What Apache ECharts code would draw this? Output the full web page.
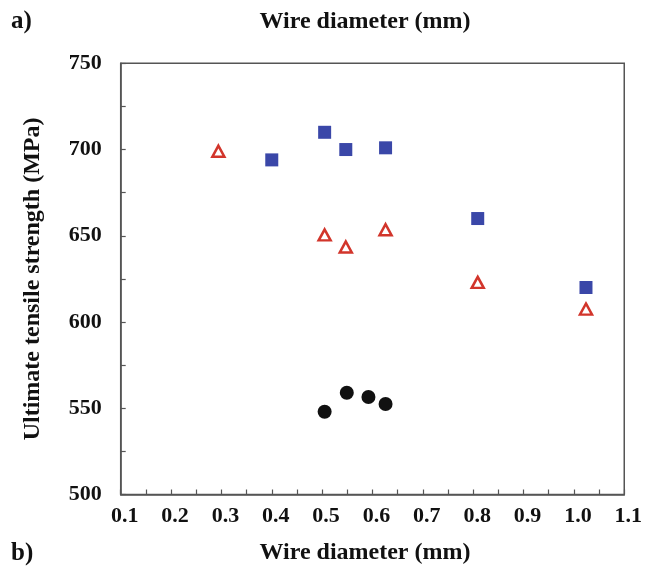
<!DOCTYPE html>
<html>
<head>
<meta charset="utf-8">
<script src="https://cdn.jsdelivr.net/npm/echarts@6/dist/echarts.min.js"></script>
<style>
  html, body { margin: 0; padding: 0; background: #fff; }
  #chart { width: 645px; height: 574px; }
</style>
</head>
<body>
<div id="chart"></div>
<script>
// Wire diameter (mm) and ultimate tensile strength (MPa) for three wire groups
const squareDiameter = [0.40, 0.505, 0.547, 0.626, 0.809, 1.024];
const squareStrength = [694, 710, 700, 701, 660, 620];

const triangleDiameter = [0.294, 0.505, 0.547, 0.626, 0.809, 1.024];
const triangleStrength = [699, 650.5, 643.5, 653.5, 623, 607.5];

const circleDiameter = [0.505, 0.549, 0.592, 0.626];
const circleStrength = [548, 559, 556.5, 552.5];

const xTickLabels = ['0.1', '0.2', '0.3', '0.4', '0.5', '0.6', '0.7', '0.8', '0.9', '1.0', '1.1'];
const yTickLabels = ['500', '550', '600', '650', '700', '750'];

const FONT = '"Liberation Serif", "Times New Roman", serif';
const AXIS_COLOR = '#555';
const TEXT_COLOR = '#111';

function pairs(xs, ys) {
  return xs.map((x, i) => [x, ys[i]]);
}

const chart = echarts.init(document.getElementById('chart'), null, { renderer: 'canvas' });

chart.setOption({
  animation: false,
  backgroundColor: '#fff',
  grid: {
    left: 120.7,
    right: 20.7,
    top: 63.3,
    bottom: 79.5,
    show: true,
    borderColor: AXIS_COLOR,
    borderWidth: 1.5,
    backgroundColor: 'transparent'
  },
  graphic: [
    { type: 'text', x: 11, y: 22, style: { text: 'a)', font: 'bold 25px ' + FONT, fill: TEXT_COLOR, verticalAlign: 'middle' } },
    { type: 'text', x: 11, y: 554, style: { text: 'b)', font: 'bold 25px ' + FONT, fill: TEXT_COLOR, verticalAlign: 'middle' } },
    { type: 'text', x: 365, y: 22, style: { text: 'Wire diameter (mm)', font: 'bold 24px ' + FONT, fill: TEXT_COLOR, align: 'center', verticalAlign: 'middle' } }
  ],
  xAxis: {
    type: 'value',
    min: 0.1,
    max: 1.1,
    interval: 0.1,
    name: 'Wire diameter (mm)',
    nameLocation: 'middle',
    nameGap: 46,
    nameTextStyle: {
      fontFamily: FONT, fontWeight: 'bold', fontSize: 24, color: TEXT_COLOR,
      padding: [0, 15, 0, 0]
    },
    axisLine: { show: true, onZero: false, lineStyle: { color: AXIS_COLOR, width: 1.5 } },
    axisTick: { show: true, inside: true, length: 5, lineStyle: { color: AXIS_COLOR, width: 1.2 } },
    minorTick: { show: true, splitNumber: 2, length: 5, lineStyle: { color: AXIS_COLOR, width: 1.2 } },
    splitLine: { show: false },
    axisLabel: {
      margin: 11,
      fontFamily: FONT, fontWeight: 'bold', fontSize: 22, color: TEXT_COLOR,
      padding: [0, 0, 0, 8],
      formatter: (v) => {
        const i = Math.round((v - 0.1) / 0.1);
        return xTickLabels[i] !== undefined ? xTickLabels[i] : '';
      }
    }
  },
  yAxis: {
    type: 'value',
    min: 500,
    max: 750,
    interval: 50,
    name: 'Ultimate tensile strength (MPa)',
    nameLocation: 'middle',
    nameRotate: 90,
    nameGap: 76,
    nameTextStyle: { fontFamily: FONT, fontWeight: 'bold', fontSize: 24, color: TEXT_COLOR },
    axisLine: { show: true, onZero: false, lineStyle: { color: AXIS_COLOR, width: 1.5 } },
    axisTick: { show: true, inside: true, length: 5, lineStyle: { color: AXIS_COLOR, width: 1.2 } },
    minorTick: { show: true, splitNumber: 2, length: 5, lineStyle: { color: AXIS_COLOR, width: 1.2 } },
    splitLine: { show: false },
    axisLabel: {
      margin: 19,
      fontFamily: FONT, fontWeight: 'bold', fontSize: 22, color: TEXT_COLOR,
      formatter: (v) => {
        const i = Math.round((v - 500) / 50);
        return yTickLabels[i] !== undefined ? yTickLabels[i] : '';
      }
    }
  },
  series: [
    {
      type: 'scatter',
      name: 'square',
      symbol: 'rect',
      symbolSize: 13,
      itemStyle: { color: '#3A47A8', opacity: 1 },
      data: pairs(squareDiameter, squareStrength)
    },
    {
      type: 'scatter',
      name: 'triangle',
      symbol: 'triangle',
      symbolSize: [12, 11],
      itemStyle: { color: '#fff', borderColor: '#D2352B', borderWidth: 2.5, opacity: 1 },
      data: pairs(triangleDiameter, triangleStrength)
    },
    {
      type: 'scatter',
      name: 'circle',
      symbol: 'circle',
      symbolSize: 14,
      itemStyle: { color: '#111', opacity: 1 },
      data: pairs(circleDiameter, circleStrength)
    }
  ]
});
</script>
</body>
</html>
